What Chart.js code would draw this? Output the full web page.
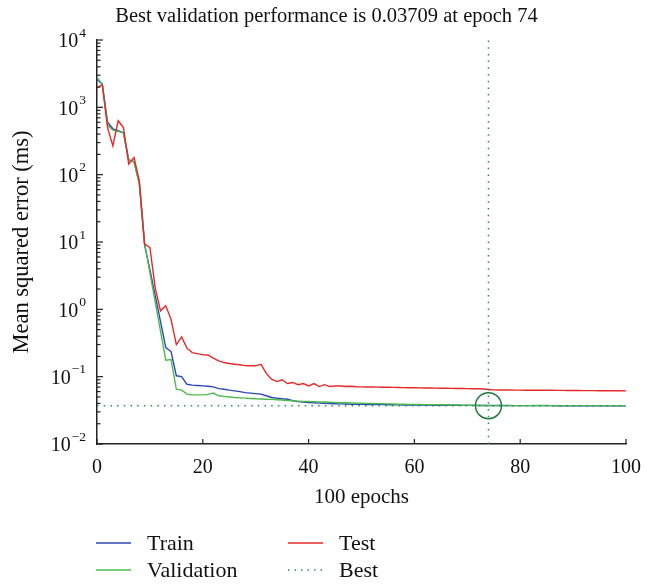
<!DOCTYPE html>
<html lang="en">
<head>
<meta charset="UTF-8">
<title>Best validation performance</title>
<script src="https://cdn.jsdelivr.net/npm/chart.js"></script>
<style>
  body { margin: 0; background: #fff; }
  #wrap { width: 653px; height: 584px; }
</style>
</head>
<body>
<div id="wrap"><canvas id="perfChart" width="653" height="584"></canvas></div>
<script>
const epochs = [0,1,2,3,4,5,6,7,8,9,10,11,12,13,14,15,16,17,18,19,20,21,22,23,24,25,26,27,28,29,30,
  31,32,33,34,35,36,37,38,39,40,41,42,43,44,45,46,47,48,49,50,51,52,53,54,55,56,57,58,59,60,
  61,62,63,64,65,66,67,68,69,70,71,72,73,74,75,76,77,78,79,80,81,82,83,84,85,86,87,88,89,90,
  91,92,93,94,95,96,97,98,99,100];

const train = [2600,2200,600,480,450,420,165,155,75,9.0,3.9,1.6,0.66,0.27,0.236,0.103,0.1,0.077,0.075,0.074,0.073,
  0.072,0.0705,0.0665,0.065,0.063,0.0616,0.06,0.058,0.057,0.056,0.055,0.052,0.049,0.048,0.047,0.0463,0.044,0.0426,0.042,0.0412,
  0.041,0.0405,0.0402,0.0398,0.0396,0.0394,0.0392,0.039,0.0389,0.0388,0.0387,0.0386,0.0385,0.0384,0.0383,0.0382,0.0381,0.038,0.038,0.0379,
  0.0379,0.0378,0.0378,0.0377,0.0377,0.0376,0.0376,0.0376,0.0375,0.0375,0.0375,0.0374,0.0374,0.0374,0.0373,0.0373,0.0373,0.0373,0.0372,0.0372,
  0.0372,0.0372,0.0371,0.0371,0.0371,0.0371,0.037,0.037,0.037,0.037,0.037,0.0369,0.0369,0.0369,0.0369,0.0369,0.0368,0.0368,0.0368,0.0368];

const validation = [2780,2220,540,460,440,415,165,155,73,9.5,3.5,1.29,0.48,0.176,0.18,0.065,0.063,0.055,0.054,0.0537,0.0537,
  0.0545,0.057,0.052,0.051,0.05,0.049,0.0485,0.048,0.0475,0.047,0.0467,0.0463,0.046,0.0455,0.045,0.0443,0.0437,0.0433,0.043,0.0427,
  0.0425,0.0423,0.042,0.0416,0.0412,0.041,0.0412,0.0408,0.0405,0.0403,0.0401,0.04,0.0398,0.0396,0.0395,0.0393,0.039,0.0389,0.0388,0.0387,
  0.0386,0.0385,0.0384,0.0383,0.0382,0.0381,0.038,0.0379,0.0378,0.0377,0.0376,0.0375,0.0374,0.0372,0.03709,0.0371,0.0372,0.0372,0.0372,0.0372,
  0.0372,0.0372,0.0373,0.0373,0.0373,0.0372,0.0372,0.0372,0.0372,0.0372,0.0372,0.0372,0.0372,0.0372,0.0372,0.0372,0.0372,0.0372,0.0372,0.0372];

const test = [1940,2170,500,268,632,500,144,180,81,9.3,8.3,2.1,0.95,1.13,0.71,0.3,0.39,0.265,0.228,0.22,0.211,
  0.21,0.188,0.172,0.162,0.157,0.153,0.15,0.146,0.145,0.145,0.153,0.112,0.092,0.0845,0.09,0.079,0.082,0.076,0.079,0.073,
  0.079,0.0713,0.076,0.0713,0.073,0.0725,0.0713,0.072,0.071,0.0705,0.0703,0.0701,0.07,0.0698,0.0696,0.0694,0.069,0.0688,0.0686,0.0684,
  0.0682,0.068,0.0678,0.0676,0.0674,0.0672,0.067,0.0668,0.0666,0.0664,0.0662,0.066,0.0655,0.0645,0.0637,0.0635,0.0634,0.0633,0.0632,0.0631,
  0.063,0.063,0.063,0.0629,0.0628,0.0627,0.0626,0.0625,0.0624,0.0623,0.0622,0.0621,0.062,0.062,0.0619,0.0619,0.0618,0.0618,0.0617,0.0616];

const bestEpoch = 74;
const bestValue = 0.03709;
const yMin = 0.01, yMax = 10000;
const yDecades = [-2, -1, 0, 1, 2, 3, 4];
const xTicks = [0, 20, 40, 60, 80, 100];

const titleText = 'Best validation performance is 0.03709 at epoch 74';
const xTitle = '100 epochs';
const yTitle = 'Mean squared error (ms)';
const legendItems = [
  { label: 'Train', color: '#2c47b4', dash: [] },
  { label: 'Validation', color: '#4cbb4c', dash: [] },
  { label: 'Test', color: '#e82828', dash: [] },
  { label: 'Best', color: '#2a8a5a', dash: [1.5, 5] }
];

const FONT = "'Liberation Serif', 'DejaVu Serif', serif";
const AXIS = '#222';

function pts(ys) {
  return ys.map((v, i) => ({ x: epochs[i], y: v }));
}

const decorPlugin = {
  id: 'decor',
  afterDraw(chart) {
    const ctx = chart.ctx;
    const xs = chart.scales.x, ys = chart.scales.y;
    const area = chart.chartArea;
    ctx.save();
    ctx.strokeStyle = AXIS;
    ctx.lineWidth = 1.2;
    // y ticks, major and minor, pointing in
    yDecades.forEach(k => {
      const yy = ys.getPixelForValue(Math.pow(10, k));
      ctx.beginPath();
      ctx.moveTo(area.left, yy);
      ctx.lineTo(area.left + 6, yy);
      ctx.stroke();
      if (k < 4) {
        for (let m = 2; m <= 9; m++) {
          const ym = ys.getPixelForValue(m * Math.pow(10, k));
          ctx.beginPath();
          ctx.moveTo(area.left, ym);
          ctx.lineTo(area.left + 3.5, ym);
          ctx.stroke();
        }
      }
    });
    // x ticks
    xTicks.forEach(t => {
      const xx = xs.getPixelForValue(t);
      ctx.beginPath();
      ctx.moveTo(xx, area.bottom);
      ctx.lineTo(xx, area.bottom - 5);
      ctx.stroke();
    });

    ctx.fillStyle = '#111';
    // y tick labels with superscript exponent
    yDecades.forEach(k => {
      const yy = ys.getPixelForValue(Math.pow(10, k));
      const exp = k < 0 ? '\u2212' + (-k) : String(k);
      ctx.font = '13.5px ' + FONT;
      const ew = ctx.measureText(exp).width;
      const right = 86;
      ctx.textBaseline = 'middle';
      ctx.textAlign = 'left';
      ctx.fillText(exp, right - ew, yy - 7);
      ctx.font = '20px ' + FONT;
      ctx.textAlign = 'right';
      ctx.fillText('10', right - ew - 1, yy + 2);
    });

    // title
    ctx.font = '20.5px ' + FONT;
    ctx.textAlign = 'center';
    ctx.textBaseline = 'middle';
    ctx.fillText(titleText, chart.width / 2, 17);

    // x title
    ctx.font = '21px ' + FONT;
    ctx.fillText(xTitle, (area.left + area.right) / 2, 497);

    // y title
    ctx.save();
    ctx.font = '22.5px ' + FONT;
    ctx.translate(22, (area.top + area.bottom) / 2);
    ctx.rotate(-Math.PI / 2);
    ctx.fillText(yTitle, 0, 0);
    ctx.restore();

    // legend, two columns
    const cols = [96, 288];
    const rows = [543, 570];
    legendItems.forEach((it, i) => {
      const cx = cols[Math.floor(i / 2)];
      const cy = rows[i % 2];
      ctx.strokeStyle = it.color;
      ctx.lineWidth = it.dash.length ? 1.5 : 1.3;
      ctx.setLineDash(it.dash);
      ctx.beginPath();
      ctx.moveTo(cx, cy);
      ctx.lineTo(cx + 35, cy);
      ctx.stroke();
      ctx.setLineDash([]);
      ctx.font = '22px ' + FONT;
      ctx.textAlign = 'left';
      ctx.fillStyle = '#111';
      ctx.fillText(it.label, cx + 51, cy + 1);
    });
    ctx.restore();
  }
};

new Chart(document.getElementById('perfChart'), {
  type: 'line',
  data: {
    datasets: [
      {
        label: 'Best point', data: [{ x: bestEpoch, y: bestValue }], showLine: false,
        pointRadius: 13, pointStyle: 'circle', pointBorderColor: '#1b7a3e', pointBorderWidth: 1.5,
        pointBackgroundColor: 'rgba(0,0,0,0)', order: 0
      },
      {
        label: 'Best', data: [{ x: 0, y: bestValue }, { x: 100, y: bestValue }],
        borderColor: '#2a8a5a', borderWidth: 1.5, borderDash: [1.5, 5.2], pointRadius: 0, order: 1
      },
      {
        label: 'Best epoch', data: [{ x: bestEpoch, y: yMin }, { x: bestEpoch, y: yMax }],
        borderColor: '#2a8a5a', borderWidth: 1.5, borderDash: [1.5, 5.2], pointRadius: 0, order: 1
      },
      { label: 'Test', data: pts(test), borderColor: '#e82828', borderWidth: 1.4, pointRadius: 0, order: 2 },
      { label: 'Validation', data: pts(validation), borderColor: '#4cbb4c', borderWidth: 1.4, pointRadius: 0, order: 3 },
      { label: 'Train', data: pts(train), borderColor: '#2c47b4', borderWidth: 1.4, pointRadius: 0, order: 4 }
    ]
  },
  options: {
    responsive: false,
    animation: false,
    layout: { padding: { top: 40, right: 26, bottom: 70, left: 0 } },
    plugins: { legend: { display: false }, title: { display: false }, tooltip: { enabled: false } },
    scales: {
      x: {
        type: 'linear', min: 0, max: 100,
        grid: { display: false, drawTicks: false },
        border: { color: AXIS, width: 1.5 },
        ticks: { stepSize: 20, color: '#111', font: { family: FONT, size: 20 }, padding: 12, maxRotation: 0 },
        afterFit: s => { s.height = 70; }
      },
      y: {
        type: 'logarithmic', min: yMin, max: yMax,
        grid: { display: false, drawTicks: false },
        border: { color: AXIS, width: 1.5 },
        ticks: { display: false },
        afterFit: s => { s.width = 97; }
      }
    }
  },
  plugins: [decorPlugin]
});
</script>
</body>
</html>
